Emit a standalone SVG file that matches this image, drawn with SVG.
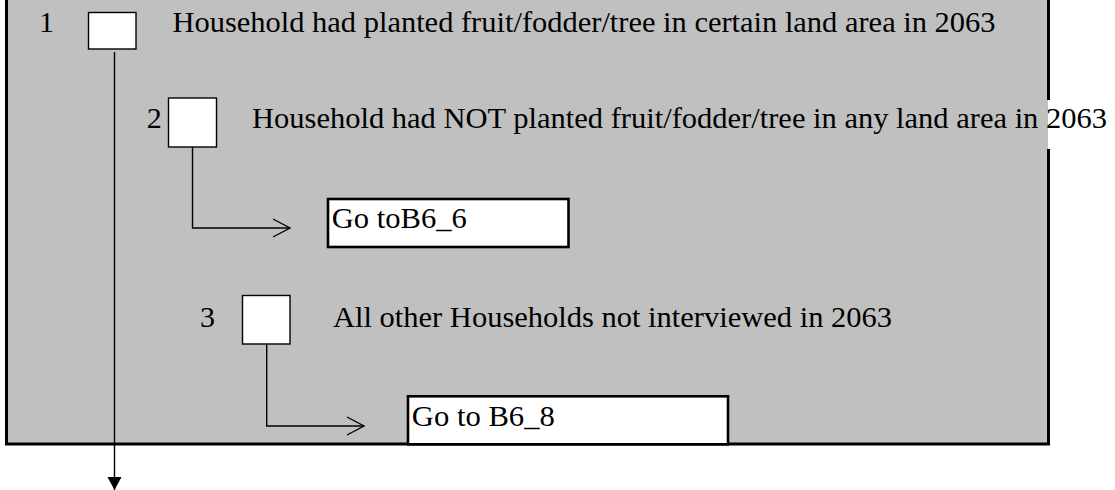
<svg xmlns="http://www.w3.org/2000/svg" width="1115" height="490" viewBox="0 0 1115 490">
  <style>
    .t { font-family: "Liberation Serif", "Times New Roman", serif; font-size: 30px; fill: #000; }
    .chk { fill: #fff; stroke: #000; stroke-width: 1.4; }
    .goto { fill: #fff; stroke: #000; stroke-width: 2.6; }
    .con { fill: none; stroke: #000; stroke-width: 1.4; }
    .border { fill: none; stroke: #000; stroke-width: 3; }
  </style>
  <defs>
    <marker id="open" markerUnits="userSpaceOnUse" markerWidth="20" markerHeight="20" refX="17" refY="9" orient="auto" overflow="visible">
      <path d="M0,0 L17,9 L0,18" fill="none" stroke="#000" stroke-width="1.4"/>
    </marker>
    <marker id="solid" markerUnits="userSpaceOnUse" markerWidth="16" markerHeight="16" refX="13" refY="7" orient="auto" overflow="visible">
      <path d="M0,0 L13,7 L0,14 Z" fill="#000"/>
    </marker>
  </defs>
  <rect width="1115" height="490" fill="#fff"/>
  <g id="panel">
    <rect x="6" y="0" width="1042" height="444" fill="#c0c0c0"/>
    <path class="border" d="M6.5,0 V444 H1048.5 V149 M1048.5,100 V0"/>
  </g>
  <g id="connectors">
    <path class="con" d="M114.5,52 V490" marker-end="url(#solid)"/>
    <path class="con" d="M192.5,147 V228 H290" marker-end="url(#open)"/>
    <path class="con" d="M266.7,344 V426 H364" marker-end="url(#open)"/>
  </g>
  <g id="option1">
    <text class="t" x="39" y="31.7">1</text>
    <rect class="chk" x="88.5" y="12.5" width="47.5" height="36.5"/>
    <text class="t" x="172.5" y="31.7" textLength="823" lengthAdjust="spacingAndGlyphs">Household had planted fruit/fodder/tree in certain land area in 2063</text>
  </g>
  <g id="option2">
    <text class="t" x="146.8" y="128">2</text>
    <rect class="chk" x="168.5" y="98" width="48" height="49"/>
    <text class="t" x="252" y="128" textLength="855" lengthAdjust="spacingAndGlyphs">Household had NOT planted fruit/fodder/tree in any land area in 2063</text>
  </g>
  <g id="goto1">
    <rect class="goto" x="328" y="199" width="240.5" height="48"/>
    <text class="t" x="331.8" y="227.7" textLength="135" lengthAdjust="spacingAndGlyphs">Go toB6_6</text>
  </g>
  <g id="option3">
    <text class="t" x="200" y="326.5">3</text>
    <rect class="chk" x="242.5" y="295.5" width="47.5" height="48.5"/>
    <text class="t" x="333" y="326.5" textLength="559" lengthAdjust="spacingAndGlyphs">All other Households not interviewed in 2063</text>
  </g>
  <g id="goto2">
    <rect class="goto" x="408" y="396.3" width="320" height="48"/>
    <text class="t" x="411.8" y="425.7" textLength="143" lengthAdjust="spacingAndGlyphs">Go to B6_8</text>
  </g>
</svg>
